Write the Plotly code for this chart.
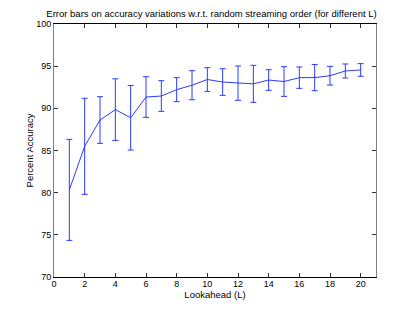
import plotly.graph_objects as go

lookahead = list(range(1, 21))
upper = [86.32, 91.19, 91.38, 93.5, 92.7, 93.75, 93.28, 93.64, 94.46, 94.82,
         94.7, 95.02, 95.1, 94.58, 94.94, 94.9, 95.2, 94.98, 95.26, 95.3]
lower = [74.34, 79.8, 85.85, 86.2, 85.05, 88.93, 89.64, 90.79, 91.02, 92.01,
         91.54, 90.95, 90.71, 92.13, 91.42, 92.37, 92.09, 92.76, 93.6, 93.8]
accuracy = [(u + l) / 2 for u, l in zip(upper, lower)]
err = [(u - l) / 2 for u, l in zip(upper, lower)]

fig = go.Figure(go.Scatter(
    x=lookahead, y=accuracy, mode="lines",
    line=dict(color="#2a3cff", width=1),
    error_y=dict(type="data", array=err, visible=True, color="#2a3cff",
                 thickness=1, width=3),
))

font = "Liberation Sans, Arial, Helvetica, sans-serif"
axis_common = dict(showgrid=False, zeroline=False, showline=True,
                   linewidth=1, mirror="allticks", ticks="inside", ticklen=4,
                   tickcolor="#333333", automargin=False,
                   tickfont=dict(size=9, color="black", family=font))

W, H = 407, 304  # page body has an 8px margin
fig.update_layout(
    width=W, height=H,
    margin=dict(l=46, r=39, t=16, b=35),
    paper_bgcolor="white", plot_bgcolor="white",
    showlegend=False,
    title=dict(text="Error bars on accuracy variations w.r.t. random streaming order (for different L)",
               x=0.5, xanchor="center", y=1 - 5.5 / H, yanchor="middle",
               font=dict(size=9.5, color="black", family=font)),
    xaxis=dict(range=[0, 21], tickvals=list(range(0, 21, 2)), linecolor="black",
               ticklabelstandoff=-2,
               title=dict(text="Lookahead (L)", standoff=2, font=dict(size=9.5, color="black", family=font)),
               **axis_common),
    yaxis=dict(range=[70, 100], tickvals=list(range(70, 101, 5)), linecolor="#808080",
               title=dict(text="Percent Accuracy", standoff=0, font=dict(size=9.5, color="black", family=font)),
               **axis_common),
)

fig.write_html("out.html")
